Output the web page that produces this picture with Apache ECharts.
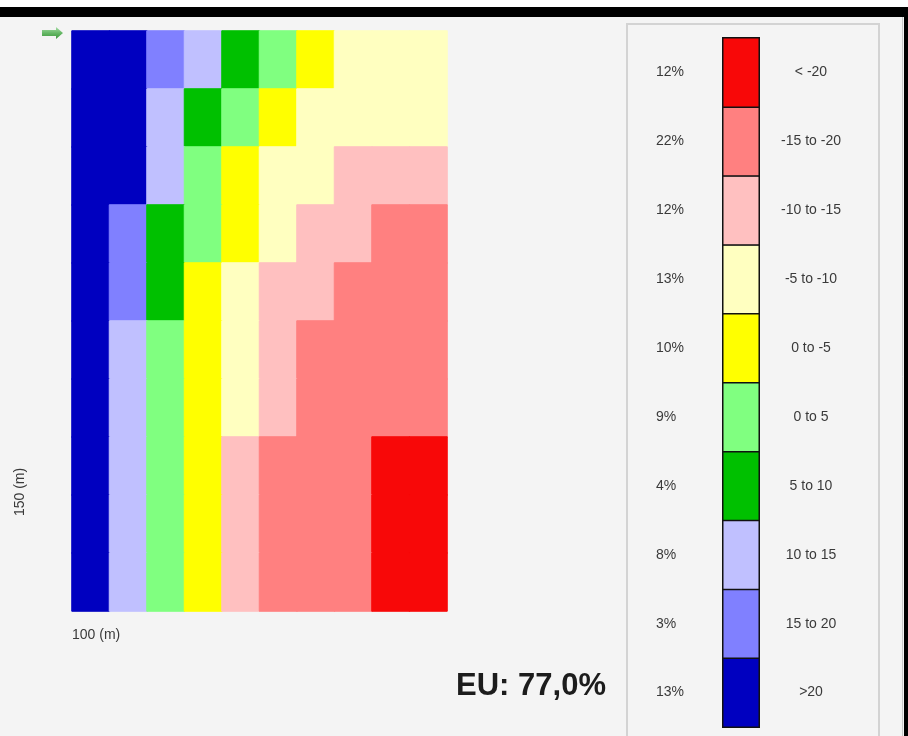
<!DOCTYPE html>
<html>
<head>
<meta charset="utf-8">
<title>EU grid</title>
<script src="https://cdn.jsdelivr.net/npm/echarts@6/dist/echarts.min.js"></script>
<style>
  html, body { margin: 0; padding: 0; background: #f4f4f4; }
  #chart { width: 908px; height: 736px; }
</style>
</head>
<body>
<div id="chart"></div>
<script>
// Class ranges, from the highest class (0) to the lowest (9)
const rangeLabels = ['>20', '15 to 20', '10 to 15', '5 to 10', '0 to 5', '0 to -5', '-5 to -10', '-10 to -15', '-15 to -20', '< -20'];
// Share of the area in each class
const classShare = ['13%', '3%', '8%', '4%', '9%', '10%', '13%', '12%', '22%', '12%'];
const classColors = ['#0000c0', '#8080ff', '#c0c0ff', '#00c000', '#80ff80', '#ffff00', '#ffffc0', '#ffc0c0', '#ff8080', '#f80808'];

// Grid columns (100 m across) and rows (150 m down)
const colIds = ['c1', 'c2', 'c3', 'c4', 'c5', 'c6', 'c7', 'c8', 'c9', 'c10'];
const rowIds = ['r1', 'r2', 'r3', 'r4', 'r5', 'r6', 'r7', 'r8', 'r9', 'r10'];

// Class index of every cell, one row per line, top row first
const row1  = [0, 0, 1, 2, 3, 4, 5, 6, 6, 6];
const row2  = [0, 0, 2, 3, 4, 5, 6, 6, 6, 6];
const row3  = [0, 0, 2, 4, 5, 6, 6, 7, 7, 7];
const row4  = [0, 1, 3, 4, 5, 6, 7, 7, 8, 8];
const row5  = [0, 1, 3, 5, 6, 7, 7, 8, 8, 8];
const row6  = [0, 2, 4, 5, 6, 7, 8, 8, 8, 8];
const row7  = [0, 2, 4, 5, 6, 7, 8, 8, 8, 8];
const row8  = [0, 2, 4, 5, 7, 8, 8, 8, 9, 9];
const row9  = [0, 2, 4, 5, 7, 8, 8, 8, 9, 9];
const row10 = [0, 2, 4, 5, 7, 8, 8, 8, 9, 9];
const classGrid = [row1, row2, row3, row4, row5, row6, row7, row8, row9, row10];

const euText = 'EU: 77,0%';
const xSizeText = '100 (m)';
const ySizeText = '150 (m)';

// Each cell is outlined in its own colour so neighbouring cells of one class merge without seams
const cellData = [];
classGrid.forEach((row, r) => row.forEach((cls, c) => cellData.push({
  value: [c, r, cls],
  itemStyle: { color: classColors[cls], borderColor: classColors[cls], borderWidth: 1 }
})));
const keyData = rangeLabels.map((_, i) => ({
  value: [0, i, i],
  itemStyle: { color: classColors[i] }
}));

const labelFont = { fontFamily: 'Liberation Sans, Arial, sans-serif', fontSize: 14, color: '#3a3a3a' };

const chart = echarts.init(document.getElementById('chart'), null, { renderer: 'canvas' });
chart.setOption({
  backgroundColor: '#f4f4f4',
  animation: false,
  grid: [
    { left: 72, top: 31, width: 375, height: 580 },
    { left: 723, top: 38, width: 36, height: 689 }
  ],
  xAxis: [
    { type: 'category', gridIndex: 0, data: colIds, show: false },
    { type: 'category', gridIndex: 1, data: ['key'], show: false }
  ],
  yAxis: [
    { type: 'category', gridIndex: 0, data: rowIds, inverse: true, show: false },
    {
      type: 'category', gridIndex: 1, data: rangeLabels, position: 'left',
      axisLine: { show: false }, axisTick: { show: false }, splitLine: { show: false },
      axisLabel: Object.assign({ align: 'left', margin: 67, formatter: (v, i) => classShare[i] }, labelFont)
    },
    {
      type: 'category', gridIndex: 1, data: rangeLabels, position: 'right',
      axisLine: { show: false }, axisTick: { show: false }, splitLine: { show: false },
      axisLabel: Object.assign({ align: 'center', margin: 52 }, labelFont)
    }
  ],
  series: [
    {
      type: 'heatmap', xAxisIndex: 0, yAxisIndex: 0, data: cellData,
      emphasis: { disabled: true }
    },
    {
      type: 'heatmap', xAxisIndex: 1, yAxisIndex: 1, data: keyData,
      itemStyle: { borderColor: '#111', borderWidth: 1.5 }, emphasis: { disabled: true }
    }
  ],
  graphic: [
    { type: 'rect', z: -1, shape: { x: 0, y: 0, width: 908, height: 7 }, style: { fill: '#ffffff' } },
    { type: 'rect', z: 1, shape: { x: 0, y: 7, width: 908, height: 10 }, style: { fill: '#000000' } },
    { type: 'rect', z: 1, shape: { x: 904, y: 7, width: 4, height: 729 }, style: { fill: '#000000' } },
    { type: 'line', z: 1, shape: { x1: 902.5, y1: 17, x2: 902.5, y2: 736 }, style: { stroke: '#c8c8c8', lineWidth: 1 } },
    { type: 'rect', z: 1, shape: { x: 627, y: 24, width: 252, height: 722 }, style: { fill: 'none', stroke: '#d3d3d3', lineWidth: 2 } },
    {
      type: 'polygon', z: 1,
      shape: { points: [[42, 30], [56, 30], [56, 27], [63, 33], [56, 39], [56, 36], [42, 36]] },
      style: {
        fill: new echarts.graphic.LinearGradient(0, 0, 0, 1, [
          { offset: 0, color: '#a6dca6' }, { offset: 0.5, color: '#66b866' }, { offset: 1, color: '#3c963c' }
        ])
      }
    },
    {
      type: 'text', z: 1, left: 72, top: 628,
      style: { text: xSizeText, font: '14px Liberation Sans, Arial, sans-serif', fill: '#3a3a3a' }
    },
    {
      type: 'text', z: 1, x: 20, y: 492, rotation: Math.PI / 2,
      style: { text: ySizeText, font: '14px Liberation Sans, Arial, sans-serif', fill: '#3a3a3a', align: 'center', verticalAlign: 'middle' }
    },
    {
      type: 'text', z: 1, x: 531, y: 686,
      style: { text: euText, font: 'bold 31px Liberation Sans, Arial, sans-serif', fill: '#1c1c1c', align: 'center', verticalAlign: 'middle' }
    }
  ]
});
</script>
</body>
</html>
